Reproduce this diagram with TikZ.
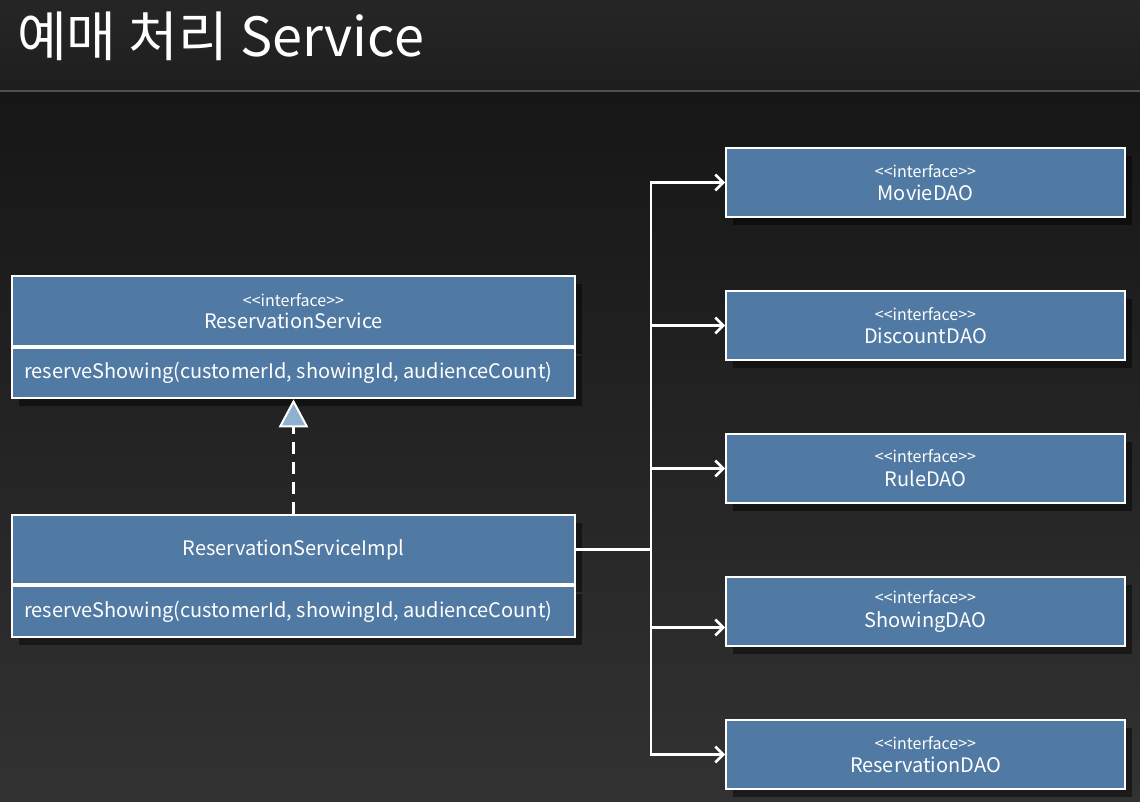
\documentclass[tikz,border=0pt]{standalone}
\usepackage{fontspec}
\newfontfamily\krfont{Noto Sans CJK KR}
\usetikzlibrary{arrows.meta,shadows}
\pgfdeclarelayer{bglayer}
\pgfdeclarelayer{nodelayer}
\pgfdeclarelayer{edgelayer}
\pgfsetlayers{bglayer,nodelayer,edgelayer,main}
\definecolor{box blue}{RGB}{80,122,163}
\definecolor{tri blue}{RGB}{143,176,206}
\definecolor{rule grey}{RGB}{80,80,80}
\definecolor{band top}{RGB}{38,38,38}
\definecolor{band bottom}{RGB}{30,30,30}
\definecolor{bg top}{RGB}{22,22,22}
\definecolor{bg mid}{RGB}{22,22,22}
\definecolor{bg bottom}{RGB}{50,50,50}
\tikzstyle{class box}=[fill=box blue, draw=white, line width=1.5pt, shape=rectangle, text=white, font=\krfont, inner sep=0pt, drop shadow={shadow xshift=5pt, shadow yshift=-6pt, opacity=0.45, fill=black}]
\tikzstyle{class head}=[class box, minimum width=422pt, minimum height=52pt, align=center]
\tikzstyle{class body}=[class box, minimum width=422pt, minimum height=38pt, text width=404pt, align=left, anchor=north]
\tikzstyle{dao box}=[class box, minimum width=299pt, minimum height=52pt, align=center]
\tikzstyle{title}=[text=white, font=\krfont\fontsize{40.5}{44}\selectfont, anchor=west, inner sep=0pt]
\tikzstyle{plain edge}=[draw=white, line width=2pt]
\tikzstyle{uses edge}=[draw=white, line width=2pt, -{Straight Barb[length=6pt,width=12pt,line width=2pt]}]
\tikzstyle{realize edge}=[draw=white, line width=2pt, dash pattern=on 9pt off 6pt, -{Triangle[width=22pt,length=21pt,fill=tri blue,line width=1.5pt]}]

\begin{document}
\begin{tikzpicture}[x=0.75pt, y=-0.75pt]
	\useasboundingbox (0, 0) rectangle (1140, 802);
	\begin{pgfonlayer}{bglayer}
		\shade [top color=band top, bottom color=band bottom] (0, 0) rectangle (1140, 91);
		\shade [top color=bg top, middle color=bg mid, bottom color=bg bottom] (0, 91) rectangle (1140, 802);
		\draw [rule grey, line width=1pt] (0, 91) -- (1140, 91);
	\end{pgfonlayer}
	\begin{pgfonlayer}{nodelayer}
		\node [style=title] (0) at (17, 36) {예매 처리 Service};
		\node [style=class head] (1) at (293.5, 311) {{\fontsize{12}{13}\selectfont <<interface>>}\\[5pt]{\fontsize{15}{17}\selectfont ReservationService}};
		\node [style=class body] (2) at (1.south) {\fontsize{15}{17}\selectfont reserveShowing(customerId, showingId, audienceCount)};
		\node [style=class head] (3) at (293.5, 549.5) {\fontsize{15}{17}\selectfont ReservationServiceImpl};
		\node [style=class body] (4) at (3.south) {\fontsize{15}{17}\selectfont reserveShowing(customerId, showingId, audienceCount)};
		\node [style=dao box] (5) at (925.5, 182.5) {{\fontsize{12}{13}\selectfont <<interface>>}\\[5pt]{\fontsize{15}{17}\selectfont MovieDAO}};
		\node [style=dao box] (6) at (925.5, 325.5) {{\fontsize{12}{13}\selectfont <<interface>>}\\[5pt]{\fontsize{15}{17}\selectfont DiscountDAO}};
		\node [style=dao box] (7) at (925.5, 468.5) {{\fontsize{12}{13}\selectfont <<interface>>}\\[5pt]{\fontsize{15}{17}\selectfont RuleDAO}};
		\node [style=dao box] (8) at (925.5, 611.5) {{\fontsize{12}{13}\selectfont <<interface>>}\\[5pt]{\fontsize{15}{17}\selectfont ShowingDAO}};
		\node [style=dao box] (9) at (925.5, 754.5) {{\fontsize{12}{13}\selectfont <<interface>>}\\[5pt]{\fontsize{15}{17}\selectfont ReservationDAO}};
		\coordinate (10) at (651, 549.5);
	\end{pgfonlayer}
	\begin{pgfonlayer}{edgelayer}
		\draw [style=realize edge] (3) to (2);
		\draw [style=plain edge] (3) to (10);
		\draw [style=uses edge] (10) |- (5);
		\draw [style=uses edge] (10) |- (6);
		\draw [style=uses edge] (10) |- (7);
		\draw [style=uses edge] (10) |- ([yshift=-12pt]8.west);
		\draw [style=uses edge] (10) |- (9);
	\end{pgfonlayer}
\end{tikzpicture}
\end{document}
